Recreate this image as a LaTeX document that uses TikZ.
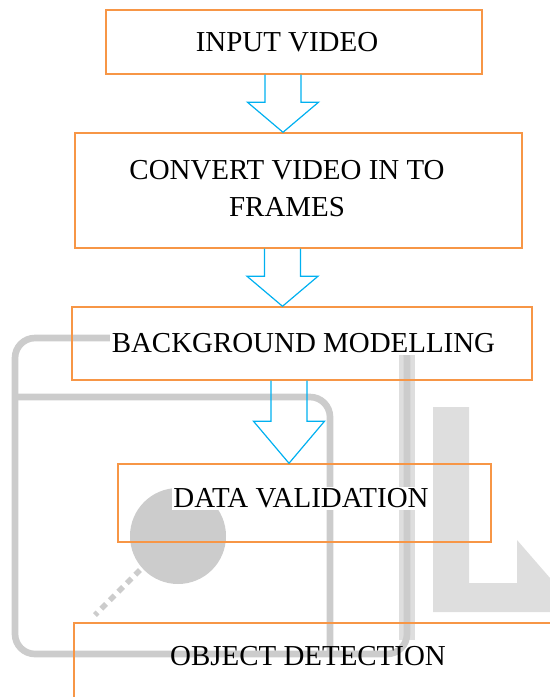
\documentclass[tikz,border=0pt]{standalone}
\usepackage{fontspec}
\setmainfont{Liberation Serif}
\usetikzlibrary{calc}
\definecolor{boxorange}{RGB}{247,150,70}
\definecolor{arrowblue}{RGB}{0,176,240}
\definecolor{markgray}{RGB}{204,204,204}
\definecolor{marklight}{RGB}{222,222,222}

\begin{document}
\begin{tikzpicture}[x=0.75pt,y=-0.75pt,font=\fontsize{21.7}{27.75}\selectfont]
      \tikzset{stepbox/.style={draw=boxorange, line width=1.1pt, rectangle, inner sep=0pt},
        every label/.style={fill=white, inner sep=1pt},
        hollow/.style={draw=arrowblue, line width=0.9pt, to path={
          let \p1=(\tikztostart), \p2=(\tikztotarget) in
          (\x1-13.5pt,\y1) -- (\x1-13.5pt,\y2+#1) -- (\x1-26.6pt,\y2+#1) -- (\x1,\y2)
          -- (\x1+26.6pt,\y2+#1) -- (\x1+13.5pt,\y2+#1) -- (\x1+13.5pt,\y1)}},
        hollow/.default=22.5pt}
      \useasboundingbox (0,0) rectangle (550,697);
      % watermark behind the chart
      \fill[marklight] (433,407) -- (469,407) -- (469,583) -- (517,583) -- (517,540)
        -- (550,578) -- (550,612) -- (433,612) -- cycle;
      \draw[marklight, line width=12.5pt] (407,352) -- (407,640);
      \draw[markgray, line width=5pt, rounded corners=15pt] (15,338) rectangle (407,654);
      \draw[markgray, line width=5pt, rounded corners=15pt] (15,397) -- (330,397) -- (330,654);
      \fill[markgray] (178,536) circle[radius=48];
      \draw[markgray, line width=4pt, dash pattern=on 5pt off 4pt] (140,570) -- (95,615);
      % steps
      \node[stepbox, minimum width=282pt, minimum height=48pt, label={[xshift=-5.25pt]center:INPUT VIDEO}] (input) at (294,42) {};
      \node[stepbox, minimum width=335.25pt, minimum height=86.25pt, label={[xshift=-8.6pt,yshift=1.5pt,align=center]center:{CONVERT VIDEO IN TO\\FRAMES}}] (frames) at (298.5,190.5) {};
      \node[stepbox, minimum width=345pt, minimum height=54.75pt, label={[xshift=1.1pt]center:BACKGROUND MODELLING}] (model) at (302,343.5) {};
      \node[stepbox, minimum width=279.75pt, minimum height=58.5pt, label={[xshift=-2.6pt,yshift=3.4pt]center:DATA VALIDATION}] (valid) at (304.5,503) {};
      \node[stepbox, minimum width=390pt, minimum height=90pt, label={[fill=none,xshift=-19.5pt,yshift=20.25pt]center:OBJECT DETECTION}] (detect) at (334,683) {};
      \draw[hollow] ([xshift=-8.25pt]input.south) to (frames.north);
      \draw[hollow] ([xshift=-12pt]frames.south) to (model.north);
      \draw[hollow=31.5pt] ([xshift=-9.75pt]model.south) to (valid.north);
\end{tikzpicture}
\end{document}
